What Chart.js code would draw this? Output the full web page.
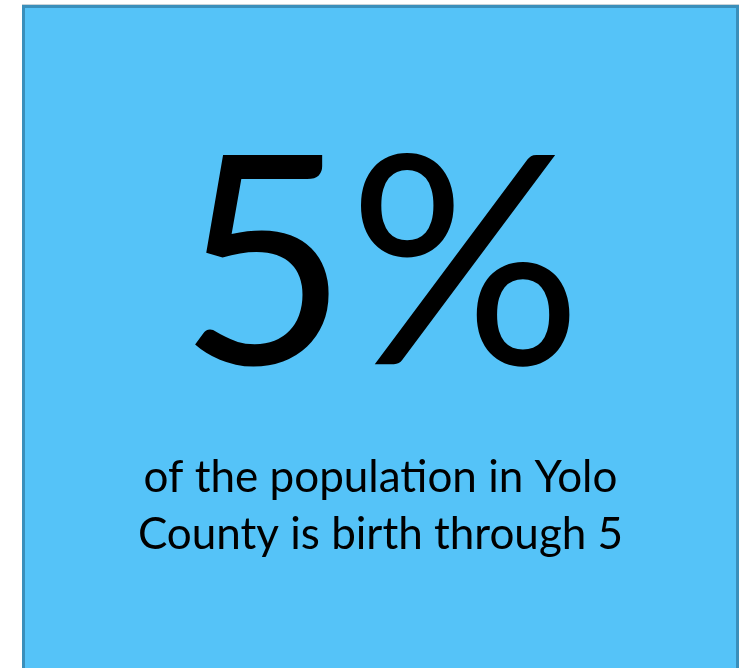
<!DOCTYPE html>
<html>
<head>
<meta charset="utf-8">
<script src="https://cdn.jsdelivr.net/npm/chart.js@4"></script>
<style>
  html, body { margin: 0; padding: 0; background: #ffffff; overflow: hidden; }
  #box {
    position: absolute; left: 22px; top: 5px;
    width: 711px; height: 680px;
    background: #55c3f8;
    border: 3px solid #3a8fbb;
    box-shadow: 0 -1px 0 #c9d3d8;
  }
  #wrap { position: absolute; left: 0; top: 0; width: 711px; height: 660px; }
</style>
</head>
<body>
<div id="box"><div id="wrap"><canvas id="c"></canvas></div></div>
<script>
const headline = "5%";
const captionLines = ["of the population in Yolo", "County is birth through 5"];
const categories = [];
const values = [];

new Chart(document.getElementById('c'), {
  type: 'bar',
  data: { labels: categories, datasets: [{ data: values }] },
  options: {
    responsive: true,
    maintainAspectRatio: false,
    animation: false,
    layout: { padding: 0 },
    scales: { x: { display: false }, y: { display: false } },
    plugins: {
      legend: { display: false },
      tooltip: { enabled: false },
      title: {
        display: true,
        text: headline,
        color: '#000000',
        font: { family: 'Lato', size: 292, weight: 'normal', lineHeight: 1 },
        padding: { top: 116, bottom: 33 }
      },
      subtitle: {
        display: true,
        text: captionLines,
        color: '#000000',
        font: { family: 'Lato', size: 44, weight: 'normal', lineHeight: 1.3 },
        padding: { top: 0, bottom: 0 }
      }
    }
  }
});
</script>
</body>
</html>
